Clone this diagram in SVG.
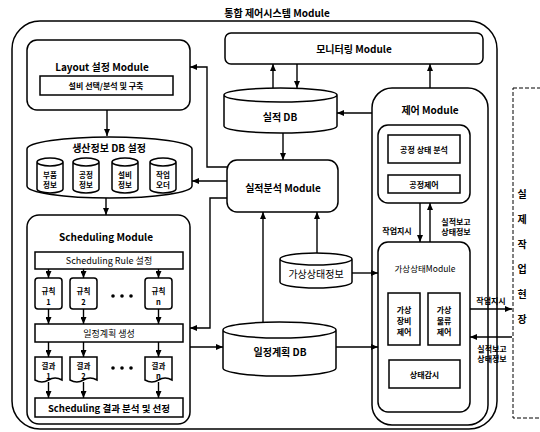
<svg xmlns="http://www.w3.org/2000/svg" width="540" height="432" viewBox="0 0 540 432">
<defs>
<marker id="ah" markerWidth="7" markerHeight="6" refX="7" refY="3" orient="auto" markerUnits="userSpaceOnUse">
<path d="M0,0 L7,3 L0,6 Z" fill="#000"/>
</marker>
<style>
.b{fill:#fff;stroke:#000;stroke-width:1.5}
.n{fill:none;stroke:#000;stroke-width:1.5}
.c{fill:none;stroke:#000;stroke-width:1.4;marker-end:url(#ah)}
text{font-family:"Noto Sans CJK KR","Liberation Sans",sans-serif;fill:#000;text-anchor:middle;dominant-baseline:central}
.t{font-size:10px;font-weight:bold}
.s{font-size:8px;font-weight:bold}
.r{font-size:9px}
.x{font-size:7.5px;font-weight:bold}
</style>
</defs>
<rect width="540" height="432" fill="#fff"/>
<g id="system">
<rect x="12" y="21" width="485" height="408" rx="28" class="n"/>
<text x="277" y="12" class="t">통합 제어시스템 Module</text>
</g>
<g id="field">
<rect x="513" y="88" width="40" height="330" fill="none" stroke="#000" stroke-width="1" stroke-dasharray="4 2"/>
<text x="522" y="193" class="t">실</text>
<text x="522" y="218" class="t">제</text>
<text x="522" y="243" class="t">작</text>
<text x="522" y="268" class="t">업</text>
<text x="522" y="293" class="t">현</text>
<text x="522" y="318" class="t">장</text>
</g>
<g id="layout">
<rect x="27" y="40" width="163" height="70" rx="10" class="b"/>
<text x="102" y="66" class="t">Layout 설정 Module</text>
<rect x="40" y="76" width="133" height="19" class="b"/>
<text x="106" y="85.5" class="s">설비 선택/분석 및 구축</text>
</g>
<g id="proddb">
<path d="M27,149 A82.5,12 0 0 1 192,149 V186 A82.5,12 0 0 1 27,186 Z" class="b"/>
<text x="109" y="147" class="t">생산정보 DB 설정</text>
<path d="M37,162 A13,4 0 0 1 63,162 V189 A13,4 0 0 1 37,189 Z M37,162 A13,4 0 0 0 63,162" class="b"/>
<path d="M73,162 A13,4 0 0 1 99,162 V189 A13,4 0 0 1 73,189 Z M73,162 A13,4 0 0 0 99,162" class="b"/>
<path d="M112,162 A13,4 0 0 1 138,162 V189 A13,4 0 0 1 112,189 Z M112,162 A13,4 0 0 0 138,162" class="b"/>
<path d="M150,162 A13,4 0 0 1 176,162 V189 A13,4 0 0 1 150,189 Z M150,162 A13,4 0 0 0 176,162" class="b"/>
<text x="50" y="174" class="x">부품</text><text x="50" y="184" class="x">정보</text>
<text x="86" y="174" class="x">공정</text><text x="86" y="184" class="x">정보</text>
<text x="125" y="174" class="x">설비</text><text x="125" y="184" class="x">정보</text>
<text x="163" y="174" class="x">작업</text><text x="163" y="184" class="x">오더</text>
</g>
<g id="scheduling">
<rect x="27" y="215" width="163" height="209" rx="12" class="b"/>
<text x="106" y="236" class="t">Scheduling Module</text>
<rect x="35" y="252" width="148" height="17" class="b"/>
<text x="109" y="260.5" class="r">Scheduling Rule 설정</text>
<rect x="35" y="278" width="27" height="31" rx="3" class="b"/>
<rect x="70" y="278" width="27" height="31" rx="3" class="b"/>
<rect x="145" y="278" width="27" height="31" rx="3" class="b"/>
<text x="48.5" y="290" class="x">규칙</text><text x="48.5" y="301" class="x">1</text>
<text x="83.5" y="290" class="x">규칙</text><text x="83.5" y="301" class="x">2</text>
<text x="158.5" y="290" class="x">규칙</text><text x="158.5" y="301" class="x">n</text>
<circle cx="113" cy="296" r="1.8"/><circle cx="122" cy="296" r="1.8"/><circle cx="131" cy="296" r="1.8"/>
<rect x="35" y="324" width="148" height="18" class="b"/>
<text x="109" y="333" class="r">일정계획 생성</text>
<path d="M35,357 H62 V380 Q55,376 48.5,380 Q42,384 35,380 Z" class="b"/>
<path d="M70,357 H97 V380 Q90,376 83.5,380 Q77,384 70,380 Z" class="b"/>
<path d="M145,357 H172 V380 Q165,376 158.5,380 Q152,384 145,380 Z" class="b"/>
<text x="48.5" y="365" class="x">결과</text><text x="48.5" y="375" class="x">1</text>
<text x="83.5" y="365" class="x">결과</text><text x="83.5" y="375" class="x">2</text>
<text x="158.5" y="365" class="x">결과</text><text x="158.5" y="375" class="x">n</text>
<circle cx="113" cy="368" r="1.8"/><circle cx="122" cy="368" r="1.8"/><circle cx="131" cy="368" r="1.8"/>
<rect x="35" y="398" width="148" height="19" class="b"/>
<text x="109" y="407.5" class="t" style="font-size:9.5px">Scheduling 결과 분석 및 선정</text>
</g>
<g id="monitoring">
<rect x="225" y="33" width="258" height="31" rx="6" class="b"/>
<text x="354" y="48.5" class="t">모니터링 Module</text>
</g>
<g id="resultdb">
<path d="M224,95 A56.5,7 0 0 1 337,95 V126 A56.5,7 0 0 1 224,126 Z M224,95 A56.5,7 0 0 0 337,95" class="b"/>
<text x="280" y="116" class="t">실적 DB</text>
</g>
<g id="analysis">
<rect x="227" y="160" width="111" height="52" rx="10" class="b"/>
<text x="283" y="187" class="t">실적분석 Module</text>
</g>
<g id="virtualinfo">
<path d="M280,259 A36,6 0 0 1 352,259 V282 A36,6 0 0 1 280,282 Z M280,259 A36,6 0 0 0 352,259" class="b"/>
<text x="316" y="273" class="r" style="font-size:10px">가상상태정보</text>
</g>
<g id="plandb">
<path d="M223,330 A56.5,8 0 0 1 336,330 V368 A56.5,8 0 0 1 223,368 Z M223,330 A56.5,8 0 0 0 336,330" class="b"/>
<text x="280" y="351" class="t">일정계획 DB</text>
</g>
<g id="control">
<rect x="372" y="88" width="116" height="337" rx="20" class="b"/>
<text x="430" y="109" class="t">제어 Module</text>
<rect x="378" y="125" width="92" height="78" rx="10" class="b"/>
<rect x="388" y="135" width="72" height="28" class="b"/>
<text x="424" y="149" class="s">공정 상태 분석</text>
<rect x="388" y="175" width="72" height="18" class="b"/>
<text x="424" y="184" class="s">공정제어</text>
<text x="397" y="230" class="s">작업지시</text>
<text x="456" y="221" class="s">실적보고</text>
<text x="456" y="231" class="s">상태정보</text>
</g>
<g id="virtual">
<rect x="378" y="242" width="92" height="170" rx="10" class="b"/>
<text x="425" y="268" class="r" style="font-size:8.5px">가상상태Module</text>
<rect x="388" y="293" width="32" height="52" class="b"/>
<text x="404" y="309" class="s">가상</text><text x="404" y="320" class="s">장비</text><text x="404" y="331" class="s">제어</text>
<rect x="428" y="293" width="32" height="52" class="b"/>
<text x="444" y="309" class="s">가상</text><text x="444" y="320" class="s">물류</text><text x="444" y="331" class="s">제어</text>
<rect x="389" y="360" width="71" height="28" class="b"/>
<text x="424.5" y="374" class="s">상태감시</text>
</g>
<g id="connectors">
<path d="M107,110 V136" class="c"/>
<path d="M106,198 V215" class="c"/>
<path d="M227,167 H207 V67 H190" class="c"/>
<path d="M227,181 H192" class="c"/>
<path d="M227,198 H210 V328 H190" class="c"/>
<path d="M190,347 H223" class="c"/>
<path d="M273,88 V64" class="c"/>
<path d="M297,64 V88" class="c"/>
<path d="M372,113 H337" class="c"/>
<path d="M283,133 V160" class="c"/>
<path d="M263,322 V212" class="c"/>
<path d="M317,253 V212" class="c"/>
<path d="M352,273 H378" class="c"/>
<path d="M336,347 H378" class="c"/>
<path d="M430,88 V64" class="c"/>
<path d="M420,203 V242" class="c"/>
<path d="M430,242 V203" class="c"/>
<path d="M470,309 H512" class="c"/>
<path d="M512,337 H470" class="c"/>
<path d="M48.5,269 V278" class="c"/><path d="M83.5,269 V278" class="c"/><path d="M158.5,269 V278" class="c"/>
<path d="M48.5,309 V324" class="c"/><path d="M83.5,309 V324" class="c"/><path d="M158.5,309 V324" class="c"/>
<path d="M48.5,342 V357" class="c"/><path d="M83.5,342 V357" class="c"/><path d="M158.5,342 V357" class="c"/>
<path d="M48.5,382 V398" class="c"/><path d="M83.5,382 V398" class="c"/><path d="M158.5,382 V398" class="c"/>
<text x="491" y="300" class="s">작업지시</text>
<text x="492" y="348" class="s">실적보고</text>
<text x="492" y="358" class="s">상태정보</text>
</g>
</svg>
